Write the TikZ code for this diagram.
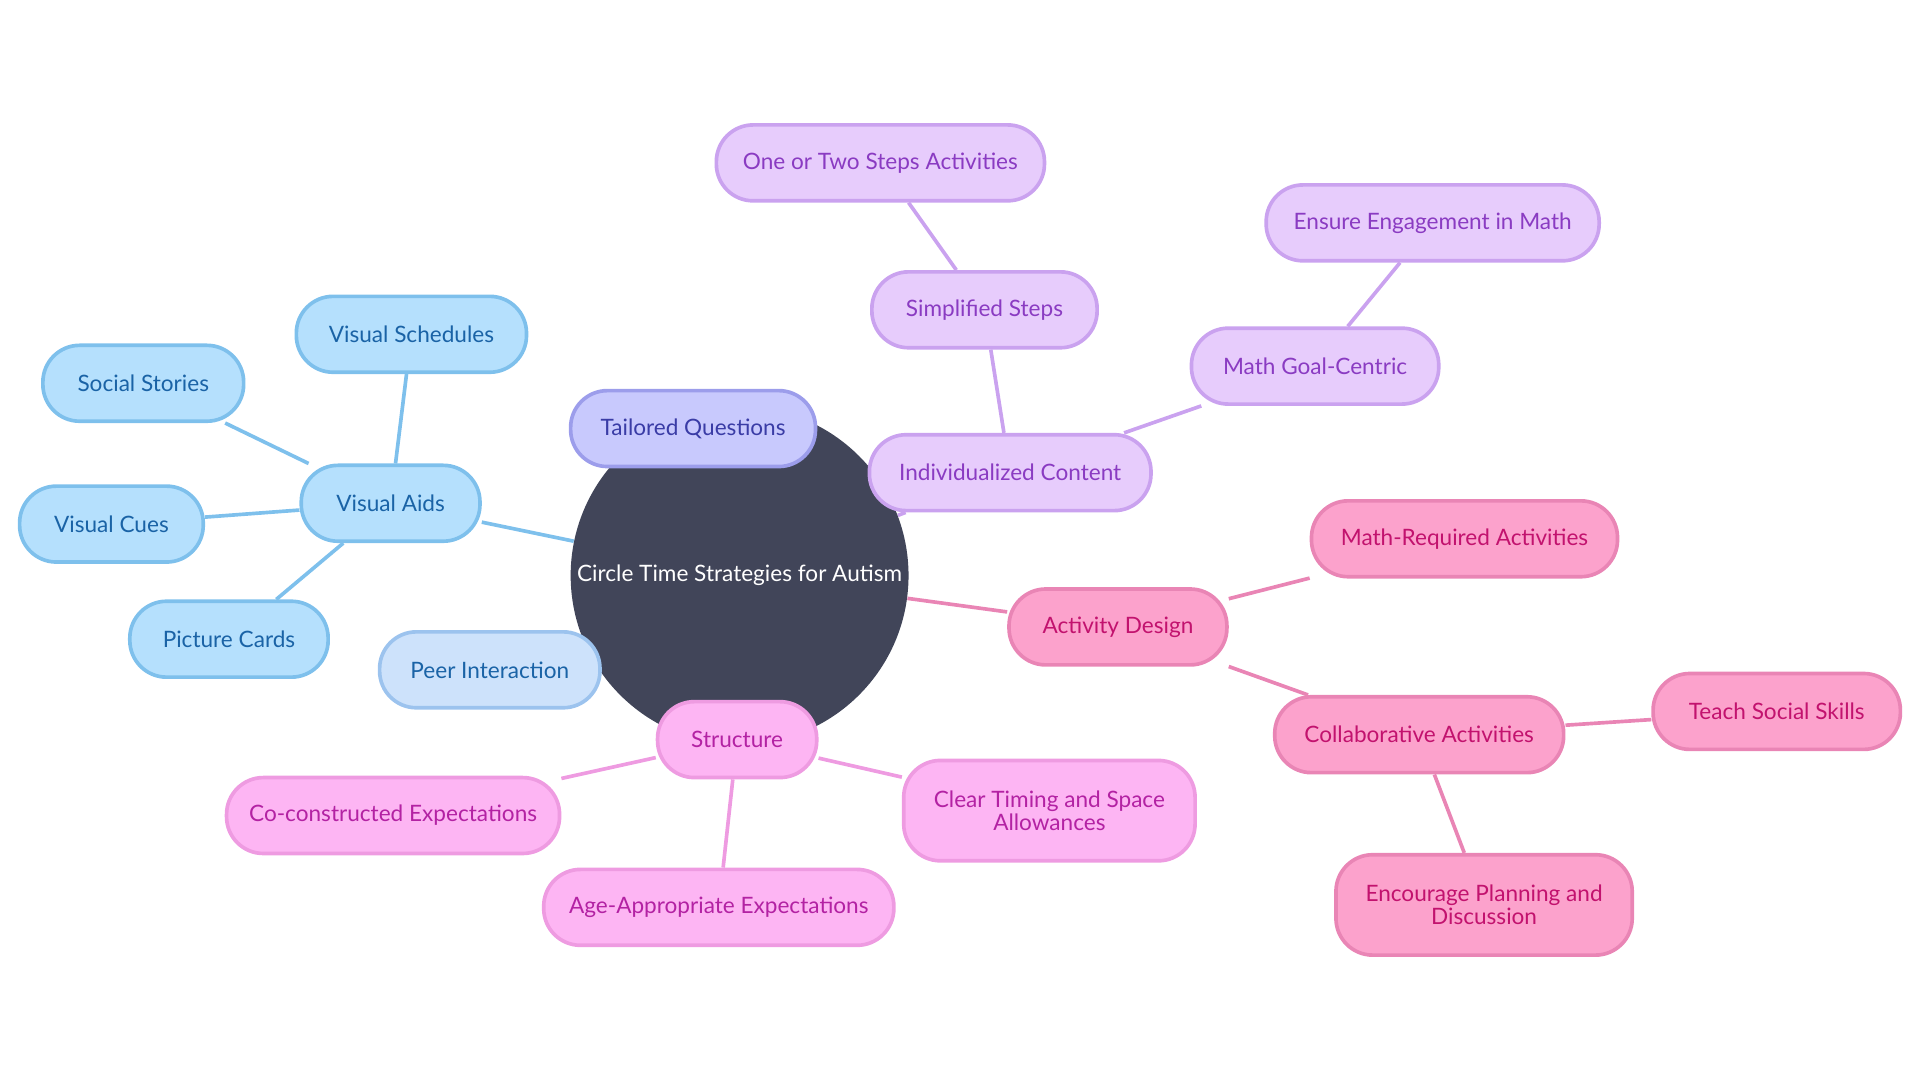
\documentclass[tikz,border=0pt]{standalone}
\usepackage{fontspec}
\setmainfont{Lato}
\usetikzlibrary{backgrounds}
\definecolor{hub}{HTML}{414559}
\definecolor{bluefill}{HTML}{B5E0FD}
\definecolor{blueline}{HTML}{7EC0EC}
\definecolor{bluetext}{HTML}{1A63A6}
\definecolor{peerfill}{HTML}{CDE2FB}
\definecolor{peerline}{HTML}{9CC3EE}
\definecolor{tailfill}{HTML}{C8C9FD}
\definecolor{tailline}{HTML}{9C9DEB}
\definecolor{tailtext}{HTML}{3A3CA6}
\definecolor{purpfill}{HTML}{E7CCFC}
\definecolor{purpline}{HTML}{CAA2EF}
\definecolor{purptext}{HTML}{8A3BC2}
\definecolor{rosefill}{HTML}{FCA2CC}
\definecolor{roseline}{HTML}{E985B5}
\definecolor{rosetext}{HTML}{C2126E}
\definecolor{magfill}{HTML}{FDB5F3}
\definecolor{magline}{HTML}{EE9BE1}
\definecolor{magtext}{HTML}{B322A3}
\begin{document}
\begin{tikzpicture}[x=0.02cm,y=-0.02cm,
        leaf/.style={draw, line width=1.7pt, rounded corners=0.6cm, minimum height=1.24cm,
            align=center, font=\fontsize{10.5}{11}\selectfont},
        tall/.style={leaf, minimum height=1.64cm},
        blue/.style={leaf, fill=bluefill, draw=blueline, text=bluetext},
        peer/.style={leaf, fill=peerfill, draw=peerline, text=bluetext},
        tail/.style={leaf, fill=tailfill, draw=tailline, text=tailtext},
        purp/.style={leaf, fill=purpfill, draw=purpline, text=purptext},
        rose/.style={leaf, fill=rosefill, draw=roseline, text=rosetext},
        mag/.style={leaf, fill=magfill, draw=magline, text=magtext},
        link/.style={line width=1.7pt}]
        \useasboundingbox (0,0) rectangle (1568,880);

        % hub
        \node[circle, fill=hub, minimum size=5.52cm, inner sep=0pt, text=white,
            font=\fontsize{10.5}{11}\selectfont] (hub) at (604,470) {Circle Time Strategies for Autism};

        % visual aids
        \node[blue, minimum width=2.92cm] (aids) at (319,411) {Visual Aids};
        \node[blue, minimum width=3.76cm] (sched) at (336,273) {Visual Schedules};
        \node[blue, minimum width=3.28cm] (stories) at (117,313) {Social Stories};
        \node[blue, minimum width=3.0cm] (cues) at (91,428) {Visual Cues};
        \node[blue, minimum width=3.24cm] (cards) at (187,522) {Picture Cards};
        \node[peer, minimum width=3.6cm] (peer) at (400,547) {Peer Interaction};

        % individualized content
        \node[purp, minimum width=4.6cm] (indiv) at (825,386) {Individualized Content};
        \node[purp, minimum width=3.68cm] (simple) at (804,253) {Simplified Steps};
        \node[purp, minimum width=5.36cm] (steps) at (719,133) {One or Two Steps Activities};
        \node[purp, minimum width=4.04cm] (goal) at (1074,299) {Math Goal-Centric};
        \node[purp, minimum width=5.44cm] (engage) at (1170,182) {Ensure Engagement in Math};

        % activity design
        \node[rose, minimum width=3.56cm] (design) at (913,512) {Activity Design};
        \node[rose, minimum width=5.0cm] (required) at (1196,440) {Math-Required Activities};
        \node[rose, minimum width=4.72cm] (collab) at (1159,600) {Collaborative Activities};
        \node[rose, minimum width=4.04cm] (social) at (1451,581) {Teach Social Skills};
        \node[rose, tall, minimum width=4.84cm] (plan) at (1212,739) {Encourage Planning and\\Discussion};

        % structure
        \node[mag, minimum width=2.6cm] (struct) at (602,604) {Structure};
        \node[mag, minimum width=5.44cm] (cocon) at (321,666) {Co-constructed Expectations};
        \node[mag, minimum width=5.72cm] (age) at (587,741) {Age-Appropriate Expectations};
        \node[mag, tall, minimum width=4.76cm] (timing) at (857,662) {Clear Timing and Space\\Allowances};

        \node[tail, minimum width=4.0cm] (tailored) at (566,350) {Tailored Questions};

        \begin{scope}[on background layer]
            \draw[link, blueline] (hub) -- (aids);
            \draw[link, blueline] (aids) -- (sched);
            \draw[link, blueline] (aids) -- (stories);
            \draw[link, blueline] (aids) -- (cues);
            \draw[link, blueline] (aids) -- (cards);
            \draw[link, purpline] (hub) -- (indiv);
            \draw[link, purpline] (indiv) -- (simple);
            \draw[link, purpline] (simple) -- (steps);
            \draw[link, purpline] (indiv) -- (goal);
            \draw[link, purpline] (goal) -- (engage);
            \draw[link, roseline] (hub) -- (design);
            \draw[link, roseline] (design) -- (required);
            \draw[link, roseline] (design) -- (collab);
            \draw[link, roseline] (collab) -- (social);
            \draw[link, roseline] (collab) -- (plan);
            \draw[link, magline] (struct) -- (cocon);
            \draw[link, magline] (struct) -- (age);
            \draw[link, magline] (struct) -- (timing);
        \end{scope}
    \end{tikzpicture}
\end{document}
